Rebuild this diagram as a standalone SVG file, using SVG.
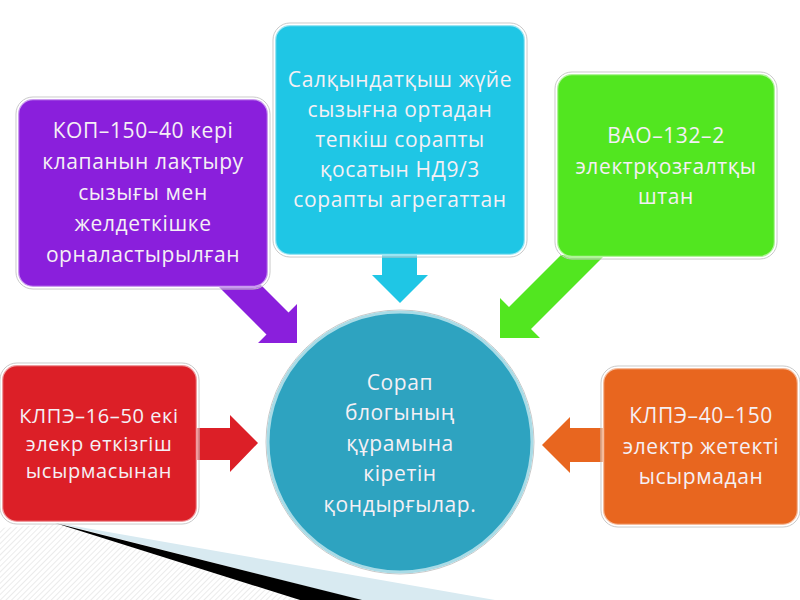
<svg xmlns="http://www.w3.org/2000/svg" width="800" height="600" viewBox="0 0 800 600">
<defs>
<pattern id="hatch" width="4" height="4" patternUnits="userSpaceOnUse" patternTransform="rotate(45)">
<rect width="4" height="4" fill="#ffffff"/>
<line x1="0" y1="0" x2="0" y2="4" stroke="#d8d8d8" stroke-width="1"/>
</pattern>
</defs>
<style>
.box{stroke:#ffffff;stroke-width:2.5;stroke-opacity:0.55}
.outer{fill:none;stroke:#c8c8c8;stroke-width:1}
.t{font-family:"Open Sans","DejaVu Sans",sans-serif;font-size:21px;fill:#f5f0f5;text-anchor:middle;letter-spacing:0.6px}
.s{font-size:20px}
</style>
<rect width="800" height="600" fill="#ffffff"/>
<g id="background">
<polygon points="0,528 57,524 300,600 0,600" fill="url(#hatch)"/>
<polygon points="57,523 495,600 360,600" fill="#d8eaf1"/>
<polygon points="55,523 362,600 300,600" fill="#000000"/>
</g>
<g id="connectors">
<polygon points="217,285 261,285 288.5,312.5 297,304 297,343 258,343 266.5,334.5" fill="#8a1fdc"/>
<polygon points="382,255 417,255 417,275 428,275 400,303 372,275 382,275" fill="#1fc6e5"/>
<polygon points="561,255 605,255 531,329 540,338 500,338 500,298 509,307" fill="#52e620"/>
<polygon points="196,428 230,428 230,415 258,443 230,472 230,460 196,460" fill="#dc1f27"/>
<polygon points="605,428 570,428 570,417 542,445 570,473 570,462 605,462" fill="#e8661f"/>
</g>
<g id="node-purple">
<rect class="outer" x="16" y="97" width="254" height="192" rx="17"/>
<rect class="box" x="18" y="99" width="250" height="188" rx="15" fill="#8a1fdc"/>
<text class="t" x="143" y="138">КОП–150–40 кері</text>
<text class="t" x="143" y="169">клапанын лақтыру</text>
<text class="t" x="143" y="200">сызығы мен</text>
<text class="t" x="143" y="231">желдеткішке</text>
<text class="t" x="143" y="262">орналастырылған</text>
</g>
<g id="node-cyan">
<rect class="outer" x="273" y="23" width="254" height="234" rx="17"/>
<rect class="box" x="275" y="25" width="250" height="230" rx="15" fill="#1fc6e5"/>
<text class="t" x="400" y="87">Салқындатқыш жүйе</text>
<text class="t" x="400" y="117">сызығна ортадан</text>
<text class="t" x="400" y="147">тепкіш сорапты</text>
<text class="t" x="400" y="177">қосатын НД9/3</text>
<text class="t" x="400" y="207">сорапты агрегаттан</text>
</g>
<g id="node-green">
<rect class="outer" x="555" y="72" width="222" height="187" rx="17"/>
<rect class="box" x="557" y="74" width="218" height="183" rx="15" fill="#52e620"/>
<text class="t" x="666" y="143">ВАО–132–2</text>
<text class="t" x="666" y="174">электрқозғалтқы</text>
<text class="t" x="666" y="204">штан</text>
</g>
<g id="node-red">
<rect class="outer" x="0" y="363" width="199" height="161" rx="17"/>
<rect class="box" x="2" y="365" width="195" height="157" rx="15" fill="#dc1f27"/>
<text class="t s" x="99" y="423">КЛПЭ–16–50 екі</text>
<text class="t s" x="99" y="451">элекр өткізгіш</text>
<text class="t s" x="99" y="478">ысырмасынан</text>
</g>
<g id="node-orange">
<rect class="outer" x="601" y="366" width="199" height="161" rx="17"/>
<rect class="box" x="603" y="368" width="195" height="157" rx="15" fill="#e8661f"/>
<text class="t" x="701" y="423">КЛПЭ–40–150</text>
<text class="t" x="701" y="454">электр жетекті</text>
<text class="t" x="701" y="484">ысырмадан</text>
</g>
<g id="node-center">
<ellipse cx="400" cy="442" rx="134" ry="132" fill="none" stroke="#c8c8c8" stroke-width="1"/>
<ellipse cx="400" cy="442" rx="132" ry="130" fill="#2ea3c0" stroke="#a9dbe6" stroke-width="3"/>
<text class="t" x="400" y="390">Сорап</text>
<text class="t" x="400" y="420">блогының</text>
<text class="t" x="400" y="451">құрамына</text>
<text class="t" x="400" y="481">кіретін</text>
<text class="t" x="400" y="512">қондырғылар.</text>
</g>
</svg>
